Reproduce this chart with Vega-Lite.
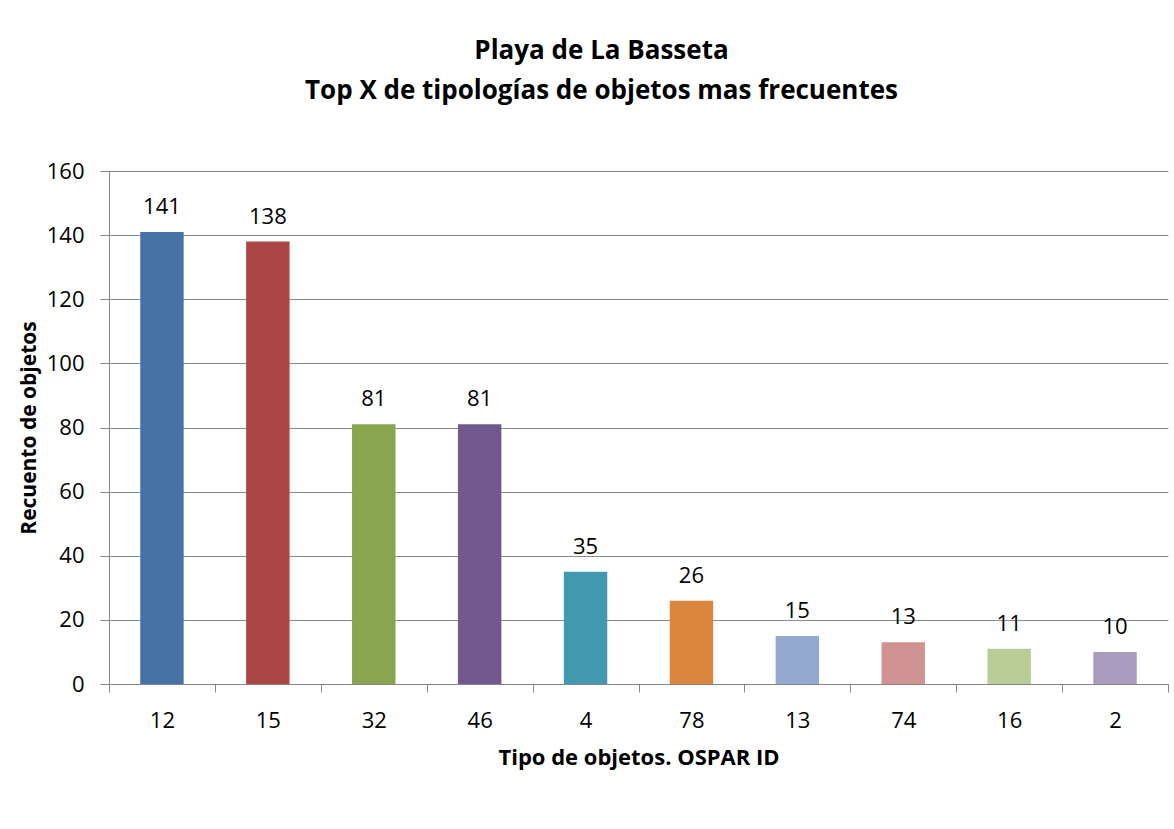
{
  "$schema": "https://vega.github.io/schema/vega-lite/v6.json",
  "autosize": {"type": "none"},
  "width": 1059,
  "height": 513,
  "padding": {"left": 109, "top": 171, "right": 6, "bottom": 145},
  "background": "white",
  "title": {
    "text": ["Playa de La Basseta", "Top X de tipologías de objetos mas frecuentes"],
    "font": "Open Sans",
    "fontSize": 26,
    "fontWeight": "bold",
    "color": "#000000",
    "lineHeight": 40,
    "anchor": "middle",
    "dx": -37,
    "offset": 56
  },
  "data": {
    "values": [
      {"id": "12", "count": 141},
      {"id": "15", "count": 138},
      {"id": "32", "count": 81},
      {"id": "46", "count": 81},
      {"id": "4", "count": 35},
      {"id": "78", "count": 26},
      {"id": "13", "count": 15},
      {"id": "74", "count": 13},
      {"id": "16", "count": 11},
      {"id": "2", "count": 10}
    ]
  },
  "config": {
    "view": {"stroke": null},
    "axis": {
      "labelFont": "Open Sans",
      "labelFontSize": 22,
      "labelColor": "#000000",
      "titleFont": "Open Sans",
      "titleFontWeight": "bold",
      "titleColor": "#000000",
      "domainColor": "#868686",
      "tickColor": "#868686",
      "gridColor": "#8c8c8c"
    }
  },
  "encoding": {
    "x": {
      "field": "id",
      "type": "nominal",
      "sort": null,
      "scale": {"paddingInner": 0, "paddingOuter": 0},
      "axis": {
        "title": "Tipo de objetos. OSPAR ID",
        "titleFontSize": 22,
        "labelAngle": 0,
        "tickBand": "extent",
        "tickExtra": true,
        "tickSize": 8,
        "labelPadding": 18,
        "titlePadding": 16
      }
    },
    "y": {
      "field": "count",
      "type": "quantitative",
      "scale": {"domain": [0, 160]},
      "axis": {
        "title": "Recuento de objetos",
        "titleFontSize": 21,
        "values": [0, 20, 40, 60, 80, 100, 120, 140, 160],
        "tickSize": 9,
        "labelPadding": 16,
        "titlePadding": 7,
        "grid": true
      }
    }
  },
  "layer": [
    {
      "mark": {"type": "bar", "width": {"band": 0.41}},
      "encoding": {
        "color": {
          "field": "id",
          "type": "nominal",
          "sort": null,
          "legend": null,
          "scale": {
            "domain": ["12", "15", "32", "46", "4", "78", "13", "74", "16", "2"],
            "range": ["#4572A7", "#AA4643", "#89A54E", "#71588F", "#4198AF", "#DB843D", "#93A9CF", "#D19392", "#B9CD96", "#A99BBD"]
          }
        }
      }
    },
    {
      "mark": {"type": "text", "baseline": "bottom", "dy": -13, "font": "Open Sans", "fontSize": 22, "color": "#000000"},
      "encoding": {"text": {"field": "count", "type": "quantitative"}}
    }
  ]
}
